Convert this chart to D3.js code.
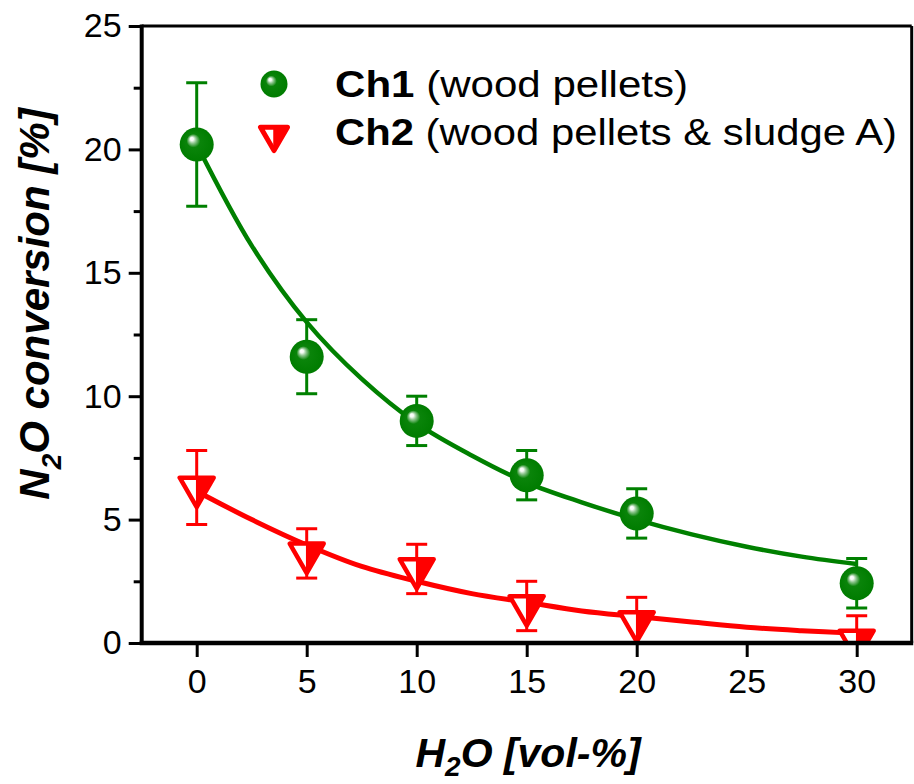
<!DOCTYPE html>
<html>
<head>
<meta charset="utf-8">
<script src="https://cdn.jsdelivr.net/npm/d3@7"></script>
<style>
  html, body { margin: 0; padding: 0; background: #fff; }
  svg { display: block; font-family: "Liberation Sans", Arial, Helvetica, sans-serif; }
</style>
</head>
<body>
<svg id="chart" width="914" height="784"></svg>
<script>
// ---- data ----
const waterContent = [0, 5, 10, 15, 20, 30];          // H2O [vol-%]
const ch1Conversion = [20.2, 11.6, 9.0, 6.8, 5.25, 2.42];
const ch1Error      = [2.5, 1.5, 1.0, 1.0, 1.0, 1.0];
const ch2Conversion = [6.3, 3.63, 3.0, 1.5, 0.85, 0.1];
const ch2Error      = [1.5, 1.0, 1.0, 1.0, 1.0, 1.0];

// exponential-decay fit curves, sampled every 2.5 vol-%
const fitX   = [0, 2.5, 5, 7.5, 10, 12.5, 15, 17.5, 20, 22.5, 25, 27.5, 30];
const ch1Fit = [20.2, 16.1, 13.0, 10.7, 8.9, 7.6, 6.5, 5.7, 5.0, 4.4, 3.9, 3.5, 3.2];
const ch2Fit = [6.15, 5.0, 3.97, 3.1, 2.5, 2.0, 1.65, 1.3, 1.07, 0.85, 0.64, 0.5, 0.39];

const xTicks = [0, 5, 10, 15, 20, 25, 30];
const yTicks = [0, 5, 10, 15, 20, 25];
const yMinorTicks = [2.5, 7.5, 12.5, 17.5, 22.5];

const legendLabels = [
  { bold: "Ch1", rest: " (wood pellets)" },
  { bold: "Ch2", rest: " (wood pellets & sludge A)" }
];

// ---- layout ----
const GREEN = "#008000", RED = "#ff0000";
const plot = { left: 141.7, right: 911.7, top: 26, bottom: 643 };

const svg = d3.select("#chart");
const x = d3.scaleLinear().domain([-2.5, 32.5]).range([plot.left, plot.right]);
const y = d3.scaleLinear().domain([0, 25]).range([plot.bottom, plot.top]);

const defs = svg.append("defs");
defs.append("clipPath").attr("id", "plotClip")
  .append("rect")
  .attr("x", plot.left).attr("y", plot.top)
  .attr("width", plot.right - plot.left).attr("height", plot.bottom - plot.top);

// shaded sphere for Ch1 markers
const grad = defs.append("radialGradient").attr("id", "sphere")
  .attr("cx", "50%").attr("cy", "50%").attr("r", "50%")
  .attr("fx", "34%").attr("fy", "32%");
grad.append("stop").attr("offset", "0").attr("stop-color", "#ffffff");
grad.append("stop").attr("offset", "0.1").attr("stop-color", "#f4fbf4");
grad.append("stop").attr("offset", "0.22").attr("stop-color", "#8cc48c");
grad.append("stop").attr("offset", "0.4").attr("stop-color", "#0a840a");
grad.append("stop").attr("offset", "1").attr("stop-color", "#007c00");

// down-pointing triangle symbols, centroid at the origin
const triDown = {
  draw(ctx, size) {
    const s = Math.sqrt(size / (Math.sqrt(3) / 4));
    const h = s * Math.sqrt(3) / 2;
    ctx.moveTo(-s / 2, -h / 3);
    ctx.lineTo(s / 2, -h / 3);
    ctx.lineTo(0, 2 * h / 3);
    ctx.closePath();
  }
};
const triDownRightHalf = {
  draw(ctx, size) {
    const s = Math.sqrt(size / (Math.sqrt(3) / 4));
    const h = s * Math.sqrt(3) / 2;
    ctx.moveTo(0, -h / 3);
    ctx.lineTo(s / 2, -h / 3);
    ctx.lineTo(0, 2 * h / 3);
    ctx.closePath();
  }
};
const triArea = side => Math.sqrt(3) / 4 * side * side;

// ---- axes ----
const yAxis = d3.axisLeft(y).tickValues(yTicks).tickSize(13).tickPadding(7).tickFormat(d3.format("d"));
const gy = svg.append("g").attr("transform", `translate(${plot.left},0)`).call(yAxis);
const yMinor = d3.axisLeft(y).tickValues(yMinorTicks).tickSize(8).tickFormat("");
const gym = svg.append("g").attr("transform", `translate(${plot.left},0)`).call(yMinor);

const xAxis = d3.axisBottom(x).tickValues(xTicks).tickSize(14).tickPadding(12).tickFormat(d3.format("d"));
const gx = svg.append("g").attr("transform", `translate(0,${plot.bottom})`).call(xAxis);

[gy, gym, gx].forEach(g => {
  g.select(".domain").remove();
  g.selectAll(".tick line").attr("stroke", "#000").attr("stroke-width", 3);
  g.selectAll(".tick text")
    .attr("fill", "#000")
    .style("font-family", '"Liberation Sans", Arial, sans-serif')
    .style("font-size", "34px");
});

// ---- fit curves ----
const plotArea = svg.append("g").attr("clip-path", "url(#plotClip)");
const line = d3.line().x(d => x(d[0])).y(d => y(d[1])).curve(d3.curveCatmullRom.alpha(0.5));
plotArea.append("path")
  .attr("d", line(fitX.map((v, i) => [v, ch1Fit[i]])))
  .attr("fill", "none").attr("stroke", GREEN).attr("stroke-width", 4.5);
plotArea.append("path")
  .attr("d", line(fitX.map((v, i) => [v, ch2Fit[i]])))
  .attr("fill", "none").attr("stroke", RED).attr("stroke-width", 5);

// ---- error bars ----
function errorBars(vals, errs, color) {
  const capHalf = 10.5;
  const g = plotArea.append("g").attr("stroke", color).attr("stroke-width", 3);
  waterContent.forEach((wx, i) => {
    const cx = x(wx), top = y(vals[i] + errs[i]), bot = y(vals[i] - errs[i]);
    g.append("line").attr("x1", cx).attr("x2", cx).attr("y1", top).attr("y2", bot);
    g.append("line").attr("x1", cx - capHalf).attr("x2", cx + capHalf).attr("y1", top).attr("y2", top);
    g.append("line").attr("x1", cx - capHalf).attr("x2", cx + capHalf).attr("y1", bot).attr("y2", bot);
  });
}
errorBars(ch1Conversion, ch1Error, GREEN);
errorBars(ch2Conversion, ch2Error, RED);

// ---- markers ----
function drawTriangle(g, cx, cy, side, sw) {
  g.append("path")
    .attr("transform", `translate(${cx},${cy})`)
    .attr("d", d3.symbol().type(triDown).size(triArea(side))())
    .attr("fill", "#fff").attr("stroke", RED).attr("stroke-width", sw)
    .attr("stroke-linejoin", "round");
  g.append("path")
    .attr("transform", `translate(${cx},${cy})`)
    .attr("d", d3.symbol().type(triDownRightHalf).size(triArea(side))())
    .attr("fill", RED).attr("stroke", RED).attr("stroke-width", 1.5);
}
function drawSphere(g, cx, cy, r) {
  g.append("circle").attr("cx", cx).attr("cy", cy).attr("r", r).attr("fill", "url(#sphere)");
}

waterContent.forEach((wx, i) => drawTriangle(plotArea, x(wx), y(ch2Conversion[i]), 34, 4.5));
waterContent.forEach((wx, i) => drawSphere(plotArea, x(wx), y(ch1Conversion[i]), 17));

// ---- frame ----
svg.append("line").attr("x1", plot.left).attr("x2", plot.right).attr("y1", plot.top).attr("y2", plot.top)
  .attr("stroke", "#000").attr("stroke-width", 3);
svg.append("line").attr("x1", plot.right).attr("x2", plot.right).attr("y1", plot.top).attr("y2", plot.bottom)
  .attr("stroke", "#000").attr("stroke-width", 3);
svg.append("line").attr("x1", plot.left).attr("x2", plot.left).attr("y1", plot.top - 1.5).attr("y2", plot.bottom + 2)
  .attr("stroke", "#000").attr("stroke-width", 4);
svg.append("line").attr("x1", plot.left - 2).attr("x2", plot.right + 1.5).attr("y1", plot.bottom).attr("y2", plot.bottom)
  .attr("stroke", "#000").attr("stroke-width", 4.5);

// ---- legend ----
const legend = svg.append("g");
drawSphere(legend, 274, 84, 13.5);
drawTriangle(legend, 274, 135, 27, 5);
const legendRows = [{ baseline: 97, width: 353 }, { baseline: 145, width: 562 }];
legendLabels.forEach((lab, i) => {
  const t = legend.append("text")
    .attr("x", 335).attr("y", legendRows[i].baseline)
    .attr("textLength", legendRows[i].width).attr("lengthAdjust", "spacingAndGlyphs")
    .style("font-size", "36px").attr("fill", "#000");
  t.append("tspan").style("font-weight", "bold").text(lab.bold);
  t.append("tspan").text(lab.rest);
});

// ---- axis titles ----
const xt = svg.append("text")
  .attr("x", 528).attr("y", 767).attr("text-anchor", "middle")
  .style("font-size", "41px").style("font-weight", "bold").style("font-style", "italic");
xt.append("tspan").text("H");
xt.append("tspan").attr("dy", 9).style("font-size", "28px").text("2");
xt.append("tspan").attr("dy", -9).text("O [vol-%]");

const yt = svg.append("text")
  .attr("transform", "translate(49,304) rotate(-90)").attr("text-anchor", "middle")
  .style("font-size", "42px").style("font-weight", "bold").style("font-style", "italic");
yt.append("tspan").text("N");
yt.append("tspan").attr("dy", 12).style("font-size", "28px").text("2");
yt.append("tspan").attr("dy", -12).text("O conversion [%]");
</script>
</body>
</html>
